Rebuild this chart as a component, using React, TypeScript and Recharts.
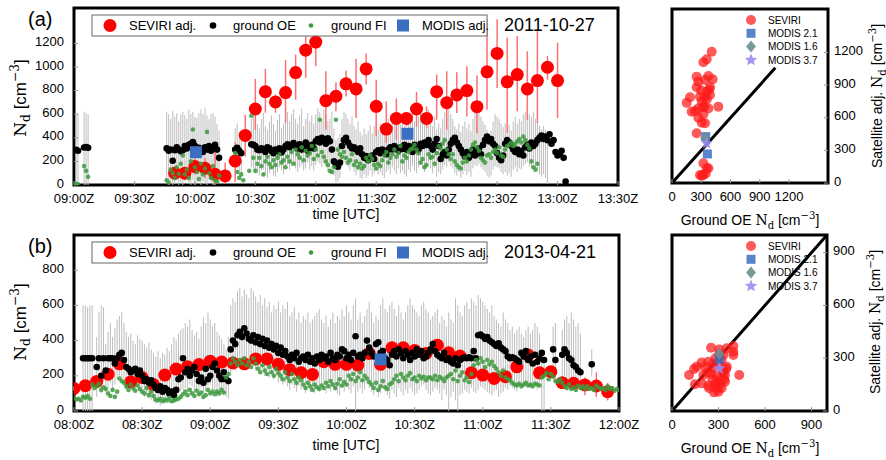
import React from "react";
import {
	ScatterChart,
	Scatter,
	XAxis,
	YAxis,
	ErrorBar,
	ReferenceArea,
	ReferenceLine
} from "recharts";

const SANS = "'Liberation Sans', Arial, sans-serif";
const SERIF = "'DejaVu Serif', 'Liberation Serif', serif";

// ---------- panel (a), 2011-10-27 (times in minutes after midnight) ----------
const timeTicksA = [540, 570, 600, 630, 660, 690, 720, 750, 780, 810];
const ndTicksA = [0, 200, 400, 600, 800, 1000, 1200];

// SEVIRI adj., every 5 min from 09:50Z
const sevStartA = 590;
const sevA = [100, 100, 156, 142, 91, 77, 204, 420, 644, 791, 704, 783, 953, 1143, 1211, 715, 752, 857, 814, 984, 667, 474, 564, 564, 644, 564, 791, 698, 763, 800, 664, 959, 1115, 874, 936, 814, 885, 998, 885];
const sevLoA = [70, 75, 90, 60, 0, 10, 28, 241, 468, 612, 612, 525, 723, 908, 1007, 468, 624, 751, 568, 851, 411, 355, 383, 496, 496, 485, 553, 468, 610, 581, 440, 638, 823, 442, 624, 553, 525, 893, 568];
const sevHiA = [130, 130, 260, 230, 283, 190, 360, 596, 899, 985, 766, 1058, 1106, 1262, 1300, 964, 870, 970, 1070, 1115, 893, 709, 734, 610, 789, 666, 936, 964, 956, 1007, 928, 1404, 1404, 1248, 1262, 1134, 1304, 1092, 1206];

// ground OE, 1 min steps, three stretches
const oeA1 = [298, 290, null, null, 318, 322, 315];
const oeLoA1 = [0, 0, 0, 0, 0, 0, 0];
const oeHiA1 = [600, 610, 0, 0, 620, 610, 600];
const fiA1 = [10, 5, null, null, 160, 120, 70];

const oeA2 = [310, 290, 300, 205, 295, 320, 300, 285, 295, 330, 310, 340, 350, 365, 330, 300, 315, 290, 280, 320, 300, 330, 290, 315, 340, 300, 230];
const oeLoA2 = [20, 0, 30, 0, 10, 40, 0, 20, 0, 30, 50, 10, 0, 40, 0, 20, 60, 0, 30, 10, 0, 50, 20, 0, 30, 60, 20];
const oeHiA2 = [620, 600, 560, 630, 580, 610, 540, 600, 620, 590, 560, 640, 600, 620, 580, 570, 610, 640, 600, 650, 590, 560, 600, 610, 580, 520, 460];
const fiA2 = [40, 20, 130, 100, 60, 150, 95, 180, 250, 90, 130, 60, 200, 470, 150, 110, 50, 180, 90, 140, 450, 100, 60, 160, 40, 25, 80];

const oeA3 = [300, 315, 290, 270, null, null, null, null, 345, 340, 330, 300, 295, 310, 300, 280, 320, 310, 290, 270, 300, 285, 310, 275, 300, 330, 345, 320, 340, 355, 330, 310, 345, 300, 330, 360, 290, 320, 340, 310, 370, 390, 360, 400, 385, 350, 395, 370, 300, 200, 170, 155, 190, 330, 380, 400, 360, 330, 310, 320, 300, 280, 310, 260, 230, 245, 210, 230, 250, 220, 280, 295, 270, 300, 285, 260, 300, 320, 300, 330, 310, 290, 320, 305, 340, 300, 330, 310, 280, 340, 320, 300, 350, 330, 360, 340, 380, 330, 300, 350, 390, 330, 220, 260, 280, 250, 300, 350, 380, 400, 360, 330, 300, 270, 240, 280, 230, 260, 300, 250, 280, 310, 260, 340, 380, 410, 370, 390, 350, 330, 270, 230, 210, 250, 350, 380, 360, 330, 300, 280, 300, 260, 290, 250, 320, 340, 310, 360, 330, 350, 380, 400, 420, 390, 410, 380, 430, 350, 380, 280, 250, 260, 290, 230, 30];
const oeLoA3 = [120, 140, 100, 90, 0, 0, 0, 0, 150, 140, 110, 100, 80, 120, 130, 90, 60, 100, 140, 80, 70, 110, 150, 120, 90, 140, 170, 130, 160, 180, 140, 110, 150, 170, 120, 140, 190, 130, 160, 120, 170, 200, 180, 150, 190, 160, 120, 140, 190, 80, 20, 30, 60, 150, 190, 170, 150, 120, 160, 110, 80, 120, 60, 50, 90, 60, 80, 120, 70, 100, 130, 90, 110, 80, 60, 110, 130, 90, 150, 120, 90, 140, 100, 120, 90, 70, 130, 110, 160, 120, 100, 150, 180, 140, 110, 160, 190, 140, 100, 150, 70, 110, 90, 130, 170, 150, 190, 160, 140, 100, 80, 110, 60, 90, 120, 80, 110, 70, 140, 170, 160, 180, 150, 130, 110, 80, 60, 80, 130, 160, 150, 140, 110, 90, 110, 80, 100, 70, 130, 150, 110, 140, 130, 160, 180, 190, 160, 150, 170, 140, 120, 90, 70, 90, 60, 10];
const oeHiA3 = [480, 520, 450, 430, 0, 0, 0, 0, 560, 600, 540, 520, 480, 560, 610, 500, 470, 540, 590, 520, 460, 550, 600, 480, 520, 580, 620, 540, 600, 640, 560, 520, 590, 650, 500, 560, 610, 540, 590, 520, 600, 650, 620, 560, 640, 600, 540, 560, 620, 480, 380, 400, 430, 560, 620, 600, 560, 520, 580, 500, 470, 540, 450, 420, 480, 430, 460, 510, 440, 500, 540, 470, 520, 480, 440, 530, 560, 500, 580, 520, 480, 560, 510, 540, 500, 470, 560, 530, 600, 540, 500, 580, 620, 560, 520, 600, 640, 560, 500, 580, 470, 520, 480, 560, 620, 580, 640, 600, 560, 500, 470, 520, 450, 500, 540, 480, 520, 460, 560, 620, 600, 640, 580, 540, 510, 470, 430, 460, 540, 600, 580, 560, 520, 490, 520, 470, 510, 460, 540, 580, 520, 560, 540, 600, 620, 640, 600, 580, 620, 560, 540, 500, 470, 500, 470, 260];
const fiA3 = [270, 110, 60, 90, 40, null, null, 120, 587, 230, 120, 180, 230, 160, 90, 200, 240, 180, 150, 210, 170, 230, 260, 190, 210, 150, 240, 200, 280, 180, 300, 260, 230, 320, 210, 290, 250, 270, 330, 220, 300, 250, 553, 280, 240, 200, 170, 120, 110, 150, 553, 300, 260, 240, 280, 230, 190, 210, 260, 170, 200, 150, 180, 140, 160, 230, 200, 250, 220, 170, 140, 180, 160, 210, 250, 280, 190, 230, 260, 300, 240, 270, 330, 200, 250, 230, 280, 300, 310, 340, 300, 270, 190, 220, 150, 170, 260, 230, 240, 180, 270, 330, 310, 350, 380, 300, 260, 220, 260, 200, 170, 150, 140, 190, 230, 200, 250, 300, 340, 360, 320, 290, 230, 210, 190, 250, 260, 230, 280, 300, 270, 320, 250, 240, 300, 330, 340, 360, 330, 350, 370, 390, 360, 410, 380, 340, 310, 200, 150, 130, 180, null];

const modisTA = [600.5, 705.5];
const modisA = [278, 434];
const modisLoA = [250, 410];
const modisHiA = [370, 460];

// ---------- panel (b), 2013-04-21 ----------
const timeTicksB = [480, 510, 540, 570, 600, 630, 660, 690, 720];
const ndTicksB = [0, 200, 400, 600, 800];

const sevStartB = 480;
const sevB = [128, 144, 168, 209, 268, 166, 190, 150, 204, 238, 252, 264, 283, 278, 273, 268, 296, 296, 265, 235, 218, 208, 280, 265, 265, 261, 327, 265, 359, 359, 344, 327, 374, 331, 312, 217, 204, 185, 195, 251, 318, 217, 223, 161, 157, 148, 142, 110];
const sevLoB = [115, 130, 150, 190, 245, 150, 170, 135, 185, 215, 235, 245, 265, 255, 255, 250, 270, 275, 245, 215, 195, 190, 255, 245, 250, 240, 300, 240, 330, 335, 320, 305, 350, 300, 290, 195, 185, 165, 175, 230, 285, 195, 200, 140, 140, 90, 80, 60];
const sevHiB = [140, 160, 185, 230, 290, 185, 210, 170, 225, 260, 270, 285, 300, 300, 290, 285, 320, 315, 285, 255, 240, 225, 305, 285, 280, 280, 350, 285, 385, 385, 370, 350, 400, 360, 335, 240, 225, 205, 215, 270, 350, 240, 245, 180, 180, 190, 220, 160];

const oeStartB = 484;
const oeB = [300, 300, 300, 300, 300, null, 250, 300, 200, 300, 230, 300, 300, 300, 270, 300, 320, 330, 290, 250, 240, 220, 230, 240, 210, 230, 200, 170, 180, 160, 175, 150, 130, 120, 140, 110, 130, 120, 100, 110, 90, 120, 180, 190, 300, 220, 240, 200, 230, 250, 210, 170, 190, 160, 240, 180, 200, 250, 270, 230, 200, 180, 220, 180, 170, 350, 400, 380, 430, 450, 420, 470, 440, 410, 400, 430, 390, 420, 380, 410, 370, 400, 360, 380, 350, 370, 330, 360, 320, 340, 310, 290, 320, 300, 330, 280, 300, 310, 290, 320, 280, 300, 270, 310, 290, 320, 300, 310, 280, 330, 300, 290, 320, 310, 350, 340, 300, 320, 290, 330, 425, 310, 320, 300, 330, 400, 360, 330, 310, 380, 390, 330, 340, 300, 290, 260, 320, 340, 310, 350, 330, 300, 340, 320, 290, 330, 310, 350, 320, 340, 300, 310, 330, 350, 380, 340, 320, 310, 300, 330, 290, 300, 280, 270, 300, 260, 290, 300, 305, 300, 305, 300, 340, 300, 430, 435, 425, 410, 420, 400, 390, 380, 370, 385, 360, 350, 340, 310, 300, 305, 300, 290, 280, 330, 310, 340, 290, 310, 270, 320, 280, 300, 330, 290, null, null, null, 350, 290, null, null, 320, 350, 330, 300, 290, 260, 250, 230, 220, null, null, null, null, 265];
const oeHiB = [600, 600, 590, 600, 600, 0, 420, 560, 600, 590, 380, 450, 500, 420, 470, 520, 540, 560, 500, 450, 420, 440, 400, 380, 430, 410, 400, 380, 360, 390, 350, 330, 310, 340, 300, 330, 320, 360, 340, 380, 420, 400, 440, 460, 470, 500, 480, 520, 460, 430, 450, 410, 480, 530, 500, 560, 520, 480, 500, 450, 430, 410, 380, 350, 420, 600, 640, 620, 680, 700, 650, 690, 660, 640, 700, 680, 650, 620, 660, 600, 640, 590, 620, 560, 600, 580, 620, 560, 600, 580, 620, 540, 560, 590, 520, 560, 500, 540, 520, 560, 500, 520, 540, 560, 580, 520, 500, 540, 480, 520, 560, 500, 540, 520, 580, 540, 600, 560, 520, 600, 640, 520, 560, 500, 540, 580, 620, 560, 500, 540, 520, 600, 640, 580, 560, 600, 620, 580, 540, 600, 560, 520, 560, 600, 640, 600, 580, 560, 540, 600, 620, 580, 560, 520, 540, 560, 580, 500, 540, 520, 480, 560, 520, 500, 640, 600, 560, 540, 600, 620, 580, 640, 620, 600, 660, 640, 620, 600, 580, 560, 600, 540, 520, 500, 480, 560, 520, 500, 460, 480, 440, 460, 480, 440, 420, 460, 480, 440, 460, 500, 480, 440, 0, 0, 0, 0, 0, 480, 500, 0, 0, 460, 520, 540, 500, 560, 520, 480, 500, 440, 0, 0, 0, 0, 350];
const oeLoB = [0, 0, 0, 0, 0, 0, 80, 150, 100, 170, 110, 130, 160, 120, 150, 180, 200, 190, 160, 120, 140, 150, 110, 130, 140, 120, 130, 80, 90, 70, 60, 50, 40, 60, 30, 50, 40, 60, 50, 70, 60, 80, 100, 110, 120, 130, 110, 150, 140, 100, 120, 90, 130, 100, 110, 140, 150, 120, 100, 80, 100, 120, 90, 80, 70, 200, 250, 230, 260, 290, 250, 300, 270, 240, 260, 280, 230, 250, 220, 240, 200, 230, 190, 210, 180, 200, 160, 170, 150, 160, 140, 120, 150, 130, 110, 140, 120, 130, 100, 140, 110, 120, 100, 130, 110, 140, 120, 100, 130, 110, 140, 120, 100, 90, 130, 110, 150, 120, 100, 140, 0, 110, 130, 100, 120, 150, 130, 110, 90, 120, 80, 100, 130, 110, 90, 70, 120, 100, 80, 130, 110, 90, 120, 100, 130, 110, 90, 100, 120, 140, 150, 120, 100, 90, 110, 130, 120, 100, 60, 120, 90, 0, 80, 110, 60, 0, 90, 100, 120, 110, 100, 130, 110, 100, 120, 140, 130, 120, 110, 100, 90, 110, 120, 80, 100, 110, 130, 120, 140, 130, 120, 110, 150, 130, 140, 160, 140, 130, 150, 140, 120, 160, 0, 0, 0, 0, 0, 200, 170, 0, 0, 150, 200, 180, 170, 160, 140, 130, 150, 160, 0, 0, 0, 0, 200];

const fiStartB = 480;
const fiB = [75, 65, 70, 60, 80, 75, 85, 70, 150, 130, 140, 155, 120, 135, 125, 100, 85, 120, 80, 110, 185, 170, 160, 140, 120, 150, 130, 115, 145, 125, 110, 100, 130, 90, 110, 85, 65, 60, 70, 55, 65, 60, 75, 55, 60, 65, 70, 80, 95, 110, 90, 120, 100, 85, 115, 95, 105, 80, 90, 120, 100, 110, 95, 110, 100, 120, 105, 190, 210, 270, 300, 280, 260, 290, 270, 300, 260, 280, 250, 300, 270, 240, 220, 260, 230, 210, 250, 220, 200, 240, 215, 200, 180, 220, 190, 170, 210, 180, 160, 190, 175, 150, 130, 160, 140, 120, 150, 135, 125, 145, 130, 160, 140, 170, 150, 130, 155, 180, 145, 165, 150, 200, 180, 210, 170, 190, 220, 175, 200, 185, 165, 150, 130, 160, 120, 140, 170, 135, 125, 150, 160, 180, 200, 170, 210, 190, 175, 200, 215, 180, 190, 170, 200, 185, 195, 175, 190, 190, 180, 200, 175, 195, 185, 170, 190, 200, 210, 180, 230, 170, 200, 220, 175, 190, 165, 210, 260, 290, 270, 300, 280, 250, 290, 265, 280, 255, 240, 220, 200, 230, 190, 180, 175, 160, 150, 145, 155, 140, 150, 160, 145, 150, 140, 155, 150, 145, 190, 200, 215, 180, 210, 195, 170, 165, 180, 160, 140, 130, 150, 125, 135, 120, 145, 130, 140, 125, 140, 125, 130, 120, 145, 135, 125, 130, 120, 140, 125, 130, 115, 125, 120];

const modisTB = [615];
const modisB = [293];
const modisLoB = [280];
const modisHiB = [365];

// ---------- scatter panels: [ground OE, satellite adj.] ----------
const sevPairsA = [[407, 1207], [356, 1137], [322, 1110], [253, 978], [270, 932], [339, 947], [373, 984], [417, 953], [253, 880], [390, 880], [356, 840], [383, 860], [185, 788], [287, 794], [339, 788], [390, 810], [305, 748], [151, 737], [356, 767], [322, 702], [475, 702], [202, 656], [236, 662], [270, 686], [322, 632], [339, 549], [305, 555], [373, 686], [253, 457], [322, 181], [356, 135], [287, 74], [322, 74], [373, 135], [346, 88], [305, 67], [330, 700], [270, 600], [300, 850]];
const modis21A = [[346, 426], [363, 267]];
const modis16A = [[339, 414]];
const modis37A = [[356, 365]];

const sevPairsB = [[252, 360], [305, 350], [353, 357], [396, 369], [305, 324], [396, 337], [331, 318], [396, 318], [234, 280], [191, 275], [159, 252], [213, 252], [267, 270], [353, 252], [331, 218], [267, 243], [110, 205], [142, 239], [202, 205], [256, 210], [288, 199], [342, 205], [434, 205], [336, 180], [310, 176], [148, 152], [191, 157], [234, 144], [277, 153], [310, 149], [342, 167], [240, 129], [288, 129], [299, 110], [271, 106], [320, 290], [280, 300], [350, 240], [300, 270], [260, 180], [320, 130], [230, 220], [290, 160], [330, 230]];
const modis21B = [[305, 294]];
const modis16B = [[305, 326]];
const modis37B = [[305, 242]];

const scatTicksA = [0, 300, 600, 900, 1200];
const scatTicksB = [0, 300, 600, 900];

// ---------- helpers ----------
type Row = { t: number; v: number; err?: [number, number] };

function rows(start: number, step: number, vals: (number | null)[], lo?: (number | null)[], hi?: (number | null)[]): Row[] {
	const out: Row[] = [];
	vals.forEach((v, i) => {
		if (v == null) return;
		const r: Row = { t: start + i * step, v };
		if (lo && hi) {
			const l = lo[i] ?? v;
			const h = hi[i] ?? v;
			r.err = [Math.max(0, v - l), Math.max(0, h - v)];
		}
		out.push(r);
	});
	return out;
}

function rowsAt(ts: number[], vals: number[], lo: number[], hi: number[]): Row[] {
	return ts.map((t, i) => ({ t, v: vals[i], err: [vals[i] - lo[i], hi[i] - vals[i]] as [number, number] }));
}

const pairs = (p: number[][]) => p.map(([x, y]) => ({ x, y }));

const hhmm = (m: number) =>
	`${String(Math.floor(m / 60)).padStart(2, "0")}:${String(m % 60).padStart(2, "0")}Z`;

const oeDataA = [...rows(541, 1, oeA1, oeLoA1, oeHiA1), ...rows(586, 1, oeA2, oeLoA2, oeHiA2), ...rows(620, 1, oeA3, oeLoA3, oeHiA3)];
const fiDataA = [...rows(541, 1, fiA1), ...rows(586, 1, fiA2), ...rows(620, 1, fiA3)];
const sevDataA = rows(sevStartA, 5, sevA, sevLoA, sevHiA);
const modisDataA = rowsAt(modisTA, modisA, modisLoA, modisHiA);

const oeDataB = rows(oeStartB, 1, oeB, oeLoB, oeHiB);
const fiDataB = rows(fiStartB, 1, fiB);
const sevDataB = rows(sevStartB, 5, sevB, sevLoB, sevHiB);
const modisDataB = rowsAt(modisTB, modisB, modisLoB, modisHiB);

// ---------- marker shapes ----------
const noShape = () => <g />;
const bigRed = (p: any) => <circle cx={p.cx} cy={p.cy} r={6.5} fill="#ff0000" />;
const blackDot = (p: any) => <circle cx={p.cx} cy={p.cy} r={3.3} fill="#000" />;
const greenDot = (p: any) => <circle cx={p.cx} cy={p.cy} r={2.3} fill="#3d9a3d" fillOpacity={0.85} />;
const blueSq = (p: any) => <rect x={p.cx - 6} y={p.cy - 6} width={12} height={12} fill="#3b6fc2" />;
const redDot = (p: any) => <circle cx={p.cx} cy={p.cy} r={5} fill="#ff1a1a" fillOpacity={0.72} />;
const smallSq = (p: any) => <rect x={p.cx - 4.5} y={p.cy - 4.5} width={9} height={9} fill="#3b6fc2" fillOpacity={0.85} />;
const diamond = (p: any) => (
	<polygon points={`${p.cx},${p.cy - 6} ${p.cx + 5},${p.cy} ${p.cx},${p.cy + 6} ${p.cx - 5},${p.cy}`} fill="#6f8f8f" fillOpacity={0.9} />
);
function starPts(cx: number, cy: number, r: number) {
	const pts: string[] = [];
	for (let i = 0; i < 10; i++) {
		const a = -Math.PI / 2 + (i * Math.PI) / 5;
		const rr = i % 2 === 0 ? r : r * 0.45;
		pts.push(`${cx + rr * Math.cos(a)},${cy + rr * Math.sin(a)}`);
	}
	return pts.join(" ");
}
const star = (p: any) => <polygon points={starPts(p.cx, p.cy, 6.5)} fill="#9a8cf0" fillOpacity={0.9} />;

const tickStyle = { fill: "#000", fontSize: 13, fontFamily: SANS };
const yTickStyle = { fill: "#000", fontSize: 13, fontFamily: SANS, dy: -2 };

// ---------- time series panel ----------
interface TSProps {
	top: number;
	right: number;
	xh: number;
	xDomain: [number, number];
	xTicks: number[];
	yMax: number;
	yTicks: number[];
	oe: Row[];
	fi: Row[];
	sev: Row[];
	modis: Row[];
}

function TimeSeries(props: TSProps) {
	return (
		<ScatterChart width={640} height={230} margin={{ top: props.top, right: props.right, left: 0, bottom: 0 }}>
			<XAxis
				type="number"
				dataKey="t"
				domain={props.xDomain}
				ticks={props.xTicks}
				tickFormatter={hhmm}
				allowDataOverflow
				height={props.xh}
				axisLine={false}
				tickSize={-4}
				tickMargin={13}
				tickLine={{ stroke: "#999" }}
				tick={tickStyle}
			/>
			<YAxis
				type="number"
				dataKey="v"
				domain={[0, props.yMax]}
				ticks={props.yTicks}
				allowDataOverflow
				width={74}
				axisLine={false}
				tickSize={-4}
				tickMargin={14}
				tickLine={{ stroke: "#999" }}
				tick={yTickStyle}
			/>
			<Scatter data={props.oe} shape={noShape} isAnimationActive={false}>
				<ErrorBar dataKey="err" direction="y" width={0} stroke="#bdbdbd" strokeWidth={1} />
			</Scatter>
			<Scatter data={props.sev} shape={bigRed} isAnimationActive={false}>
				<ErrorBar dataKey="err" direction="y" width={0} stroke="#ff7070" strokeWidth={1.5} />
			</Scatter>
			<Scatter data={props.oe} shape={blackDot} isAnimationActive={false} />
			<Scatter data={props.fi} shape={greenDot} isAnimationActive={false} />
			<Scatter data={props.modis} shape={blueSq} isAnimationActive={false}>
				<ErrorBar dataKey="err" direction="y" width={0} stroke="#3b6fc2" strokeWidth={1.5} />
			</Scatter>
			<ReferenceArea
				x1={props.xDomain[0]}
				x2={props.xDomain[1]}
				y1={0}
				y2={props.yMax}
				fill="none"
				stroke="#000"
				strokeWidth={3}
				ifOverflow="visible"
			/>
		</ScatterChart>
	);
}

// ---------- scatter panel ----------
interface SCProps {
	top: number;
	xh: number;
	yw: number;
	max: number;
	lineTo: number;
	ticks: number[];
	sev: { x: number; y: number }[];
	m21: { x: number; y: number }[];
	m16: { x: number; y: number }[];
	m37: { x: number; y: number }[];
}

function ScatterPanel(props: SCProps) {
	return (
		<ScatterChart width={246} height={230} margin={{ top: props.top, right: 0, left: 32, bottom: 0 }}>
			<XAxis
				type="number"
				dataKey="x"
				domain={[0, props.max]}
				ticks={props.ticks}
				allowDataOverflow
				height={props.xh}
				axisLine={false}
				tickSize={-4}
				tickMargin={13}
				tickLine={{ stroke: "#999" }}
				tick={tickStyle}
			/>
			<YAxis
				type="number"
				dataKey="y"
				orientation="right"
				domain={[0, props.max]}
				ticks={props.ticks}
				allowDataOverflow
				width={props.yw}
				axisLine={false}
				tickSize={-4}
				tickMargin={10}
				tickLine={{ stroke: "#999" }}
				tick={yTickStyle}
			/>
			<ReferenceLine
				segment={[{ x: 0, y: 0 }, { x: props.lineTo, y: props.lineTo }]}
				stroke="#000"
				strokeWidth={3}
				ifOverflow="visible"
			/>
			<Scatter data={props.sev} shape={redDot} isAnimationActive={false} />
			<Scatter data={props.m21} shape={smallSq} isAnimationActive={false} />
			<Scatter data={props.m16} shape={diamond} isAnimationActive={false} />
			<Scatter data={props.m37} shape={star} isAnimationActive={false} />
			<ReferenceArea
				x1={0}
				x2={props.max}
				y1={0}
				y2={props.max}
				fill="none"
				stroke="#000"
				strokeWidth={3}
				ifOverflow="visible"
			/>
		</ScatterChart>
	);
}

// ---------- text overlay ----------
function NdLabel(props: { x: number; y: number; size: number; prefix?: string; vertical?: boolean }) {
	const s = props.size;
	const sub = s * 0.72;
	return (
		<text transform={`translate(${props.x},${props.y}) rotate(${props.vertical ? -90 : 0})`} textAnchor="middle" fontSize={s} fill="#000">
			{props.prefix ? <tspan fontFamily={SANS}>{props.prefix}</tspan> : null}
			<tspan fontFamily={SERIF}>N</tspan>
			<tspan fontFamily={SERIF} fontSize={sub} dy={s * 0.25}>d</tspan>
			<tspan fontFamily={SANS} dy={-s * 0.25}> [cm</tspan>
			<tspan fontFamily={SERIF} fontSize={sub} dy={-s * 0.4}>−3</tspan>
			<tspan fontFamily={SANS} dy={s * 0.4}>]</tspan>
		</text>
	);
}

function TSLegend(props: { y: number; date: string }) {
	const cy = props.y + 10.5;
	return (
		<g fontFamily={SANS} fontSize={13} fill="#000">
			<rect x={92} y={props.y} width={395} height={21} fill="#fff" stroke="#666" strokeWidth={1} />
			<circle cx={110} cy={cy} r={6.5} fill="#ff0000" />
			<text x={129} y={cy + 4.5}>SEVIRI adj.</text>
			<circle cx={213} cy={cy} r={3.3} fill="#000" />
			<text x={233} y={cy + 4.5}>ground OE</text>
			<circle cx={311} cy={cy} r={2.3} fill="#3d9a3d" />
			<text x={331} y={cy + 4.5}>ground FI</text>
			<rect x={397} y={cy - 6} width={12} height={12} fill="#3b6fc2" />
			<text x={422} y={cy + 4.5}>MODIS adj.</text>
			<text x={504} y={cy + 5} fontSize={18}>{props.date}</text>
		</g>
	);
}

function ScLegend(props: { y: number }) {
	const ys = [props.y, props.y + 13.3, props.y + 26.6, props.y + 40];
	return (
		<g fontFamily={SANS} fontSize={10} fill="#000">
			{redDot({ cx: 751, cy: ys[0] })}
			<text x={768} y={ys[0] + 3.5}>SEVIRI</text>
			{smallSq({ cx: 751, cy: ys[1] })}
			<text x={768} y={ys[1] + 3.5}>MODIS 2.1</text>
			{diamond({ cx: 751, cy: ys[2] })}
			<text x={768} y={ys[2] + 3.5}>MODIS 1.6</text>
			{star({ cx: 751, cy: ys[3] })}
			<text x={768} y={ys[3] + 3.5}>MODIS 3.7</text>
		</g>
	);
}

function Overlay() {
	return (
		<svg width={886} height={460} style={{ position: "absolute", left: 0, top: 0, pointerEvents: "none" }}>
			<text x={28} y={26} fontFamily={SANS} fontSize={20}>(a)</text>
			<text x={28} y={253} fontFamily={SANS} fontSize={20}>(b)</text>
			<TSLegend y={15} date="2011-10-27" />
			<TSLegend y={242} date="2013-04-21" />
			<ScLegend y={20} />
			<ScLegend y={246} />
			<NdLabel x={26} y={98} size={17} vertical />
			<NdLabel x={26} y={322} size={17} vertical />
			<text x={346} y={219} textAnchor="middle" fontFamily={SANS} fontSize={14}>time [UTC]</text>
			<text x={346} y={450} textAnchor="middle" fontFamily={SANS} fontSize={14}>time [UTC]</text>
			<NdLabel x={750} y={225} size={14} prefix="Ground OE " />
			<NdLabel x={750} y={453} size={14} prefix="Ground OE " />
			<NdLabel x={882} y={96} size={14} prefix="Satellite adj. " vertical />
			<NdLabel x={880} y={322} size={14} prefix="Satellite adj. " vertical />
		</svg>
	);
}

export default function App() {
	return (
		<div style={{ position: "absolute", left: 0, top: 0, width: 886, height: 460, background: "#fff" }}>
			<div style={{ position: "absolute", left: 0, top: 0 }}>
				<TimeSeries top={8} right={22} xh={45} xDomain={[540, 810]} xTicks={timeTicksA} yMax={1500} yTicks={ndTicksA} oe={oeDataA} fi={fiDataA} sev={sevDataA} modis={modisDataA} />
			</div>
			<div style={{ position: "absolute", left: 0, top: 230 }}>
				<TimeSeries top={5} right={21} xh={49} xDomain={[480, 720]} xTicks={timeTicksB} yMax={1000} yTicks={ndTicksB} oe={oeDataB} fi={fiDataB} sev={sevDataB} modis={modisDataB} />
			</div>
			<div style={{ position: "absolute", left: 640, top: 0 }}>
				<ScatterPanel top={9} xh={47} yw={58} max={1600} lineTo={1060} ticks={scatTicksA} sev={pairs(sevPairsA)} m21={pairs(modis21A)} m16={pairs(modis16A)} m37={pairs(modis37A)} />
			</div>
			<div style={{ position: "absolute", left: 640, top: 230 }}>
				<ScatterPanel top={5} xh={49} yw={59} max={1000} lineTo={1000} ticks={scatTicksB} sev={pairs(sevPairsB)} m21={pairs(modis21B)} m16={pairs(modis16B)} m37={pairs(modis37B)} />
			</div>
			<Overlay />
		</div>
	);
}
